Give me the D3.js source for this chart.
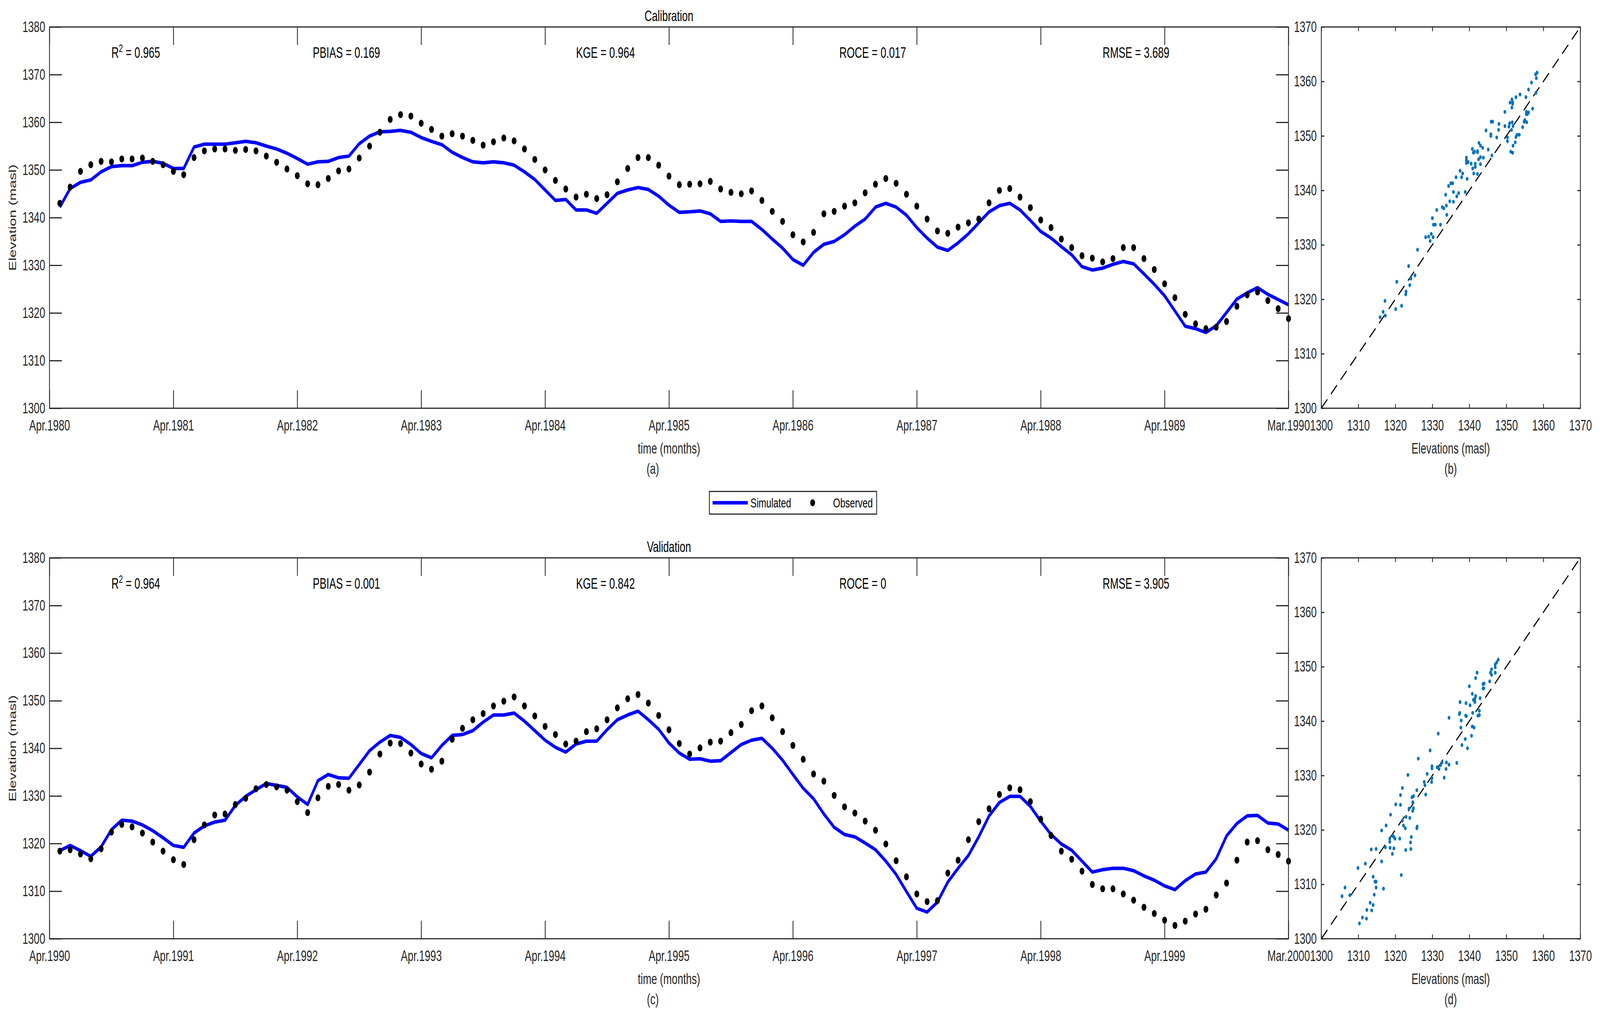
<!DOCTYPE html>
<html lang="en">
<head>
<meta charset="UTF-8">
<title>Calibration and validation - lake elevation</title>
<style>
  html, body { margin: 0; padding: 0; background: #fff; overflow: hidden; }
  svg { display: block; width: 100vw; height: 100vh; font-family: "Liberation Sans", Arial, Helvetica, sans-serif; }
  .axis text { fill: #262626; font-size: 38px; }
  .axis line { stroke: #262626; stroke-width: 3; }
  .frame { fill: none; stroke: #262626; stroke-width: 3; }
  .lbl { fill: #262626; font-size: 38px; }
  .stat, .title { fill: #000; font-size: 38px; }
  .legend text { fill: #000; font-size: 34px; }
</style>
</head>
<body>
<svg id="chart"></svg>
<script src="https://d3js.org/d3.v7.min.js"></script>
<script>
// x tick labels (one every 12 months)
const calTicks = ["Apr.1980", "Apr.1981", "Apr.1982", "Apr.1983", "Apr.1984", "Apr.1985",
  "Apr.1986", "Apr.1987", "Apr.1988", "Apr.1989", "Mar.1990"];
const valTicks = ["Apr.1990", "Apr.1991", "Apr.1992", "Apr.1993", "Apr.1994", "Apr.1995",
  "Apr.1996", "Apr.1997", "Apr.1998", "Apr.1999", "Mar.2000"];
const elevTicks = [1300, 1310, 1320, 1330, 1340, 1350, 1360, 1370, 1380];
const scatterTicks = [1300, 1310, 1320, 1330, 1340, 1350, 1360, 1370];

// goodness of fit
const statNames = ["R", "PBIAS", "KGE", "ROCE", "RMSE"];
const calStats = ["0.965", "0.169", "0.964", "0.017", "3.689"];
const valStats = ["0.964", "0.001", "0.842", "0", "3.905"];

// monthly elevations (masl), calibration period
const calSim = [1342.2, 1346.1, 1347.4, 1347.9, 1349.6, 1350.7, 1350.9, 1350.9, 1351.6, 1351.8,
  1351.4, 1350.3, 1350.3, 1354.8, 1355.4, 1355.4, 1355.4, 1355.7, 1356.0, 1355.7,
  1355.0, 1354.4, 1353.5, 1352.4, 1351.2, 1351.7, 1351.8, 1352.6, 1352.9, 1355.5,
  1357.1, 1358.0, 1358.1, 1358.3, 1357.9, 1356.8, 1356.0, 1355.3, 1353.7, 1352.6,
  1351.7, 1351.5, 1351.7, 1351.5, 1351.0, 1349.6, 1348.0, 1345.8, 1343.6, 1343.8,
  1341.6, 1341.6, 1340.9, 1343.0, 1345.1, 1345.8, 1346.3, 1345.9, 1344.5, 1342.6,
  1341.1, 1341.2, 1341.4, 1340.8, 1339.2, 1339.3, 1339.2, 1339.2, 1337.5, 1335.5,
  1333.6, 1331.2, 1330.0, 1332.7, 1334.4, 1335.0, 1336.4, 1338.2, 1339.7, 1342.2,
  1343.0, 1342.2, 1340.5, 1337.9, 1335.7, 1333.8, 1333.1, 1334.7, 1336.6, 1338.9,
  1341.2, 1342.5, 1343.0, 1341.6, 1339.4, 1337.1, 1335.7, 1333.9, 1332.2, 1329.7,
  1329.0, 1329.4, 1330.2, 1330.8, 1330.3, 1328.2, 1326.0, 1323.6, 1320.4, 1317.2,
  1316.7, 1315.9, 1317.3, 1320.1, 1322.9, 1324.2, 1325.3, 1323.9, 1322.8, 1321.7];
const calObs = [1343.0, 1346.4, 1349.7, 1351.1, 1351.8, 1351.7, 1352.3, 1352.3, 1352.5, 1351.8,
  1351.1, 1349.7, 1349.0, 1352.6, 1354.0, 1354.4, 1354.4, 1354.1, 1354.3, 1354.0,
  1352.9, 1351.6, 1350.2, 1348.8, 1347.1, 1346.9, 1348.2, 1349.8, 1350.2, 1352.5,
  1355.0, 1357.9, 1360.6, 1361.6, 1361.3, 1359.8, 1358.5, 1357.1, 1357.6, 1357.1,
  1356.2, 1355.2, 1355.9, 1356.7, 1356.1, 1354.4, 1352.2, 1350.0, 1347.8, 1346.0,
  1344.3, 1344.9, 1344.0, 1344.8, 1347.5, 1350.3, 1352.6, 1352.6, 1351.0, 1348.7,
  1346.9, 1347.0, 1347.1, 1347.6, 1346.0, 1345.3, 1345.0, 1345.6, 1343.6, 1341.3,
  1339.2, 1336.4, 1334.9, 1336.9, 1340.8, 1341.3, 1342.4, 1343.1, 1345.2, 1347.0,
  1348.2, 1347.2, 1344.9, 1342.4, 1339.7, 1337.2, 1336.7, 1338.0, 1338.9, 1339.7,
  1343.1, 1345.7, 1346.1, 1344.3, 1342.1, 1339.5, 1337.9, 1335.5, 1333.7, 1332.0,
  1331.5, 1330.7, 1331.4, 1333.7, 1333.7, 1331.4, 1329.1, 1326.1, 1323.2, 1319.7,
  1317.7, 1316.7, 1317.0, 1318.2, 1321.4, 1323.8, 1324.4, 1322.6, 1320.9, 1318.8];

// monthly elevations (masl), validation period
const valSim = [1318.5, 1319.6, 1318.5, 1317.3, 1319.3, 1322.9, 1324.9, 1324.7, 1323.9, 1322.7,
  1321.2, 1319.6, 1319.2, 1322.2, 1323.7, 1324.5, 1324.9, 1328.0, 1329.9, 1331.3,
  1332.6, 1332.2, 1331.8, 1329.8, 1328.2, 1333.2, 1334.5, 1333.8, 1333.7, 1336.6,
  1339.5, 1341.3, 1342.7, 1342.3, 1340.8, 1338.9, 1338.0, 1340.6, 1342.7, 1342.9,
  1343.7, 1345.5, 1347.0, 1347.0, 1347.4, 1345.7, 1343.7, 1341.7, 1340.2, 1339.2,
  1340.9, 1341.5, 1341.5, 1343.9, 1346.0, 1347.0, 1347.8, 1346.0, 1344.0, 1341.1,
  1339.0, 1337.7, 1337.8, 1337.3, 1337.4, 1339.1, 1340.8, 1341.7, 1342.1, 1340.0,
  1337.5, 1334.5, 1331.6, 1329.4, 1326.2, 1323.4, 1321.9, 1321.4, 1320.1, 1318.7,
  1316.3, 1313.5, 1309.9, 1306.4, 1305.6, 1307.7, 1311.9, 1314.8, 1317.5, 1321.4,
  1325.8, 1328.6, 1329.9, 1329.9, 1327.8, 1324.7, 1321.9, 1319.9, 1318.6, 1316.3,
  1314.0, 1314.5, 1314.8, 1314.8, 1314.3, 1313.2, 1312.3, 1311.1, 1310.3, 1312.2,
  1313.6, 1314.0, 1316.8, 1321.6, 1324.2, 1325.8, 1325.9, 1324.3, 1324.1, 1322.8];
const valObs = [1318.4, 1318.7, 1317.8, 1316.8, 1318.9, 1322.4, 1324.0, 1323.5, 1322.2, 1320.3,
  1318.4, 1316.6, 1315.6, 1320.8, 1323.9, 1326.0, 1326.2, 1328.2, 1329.5, 1331.5,
  1332.4, 1331.9, 1331.2, 1328.8, 1326.5, 1329.6, 1332.0, 1332.4, 1331.2, 1332.3,
  1335.0, 1338.8, 1341.1, 1341.0, 1339.0, 1336.7, 1335.6, 1337.3, 1341.9, 1344.2,
  1346.0, 1347.3, 1348.9, 1349.9, 1350.8, 1348.9, 1346.8, 1344.6, 1342.9, 1340.9,
  1341.5, 1343.5, 1344.1, 1346.0, 1348.5, 1350.4, 1351.3, 1349.5, 1346.9, 1343.9,
  1341.0, 1338.8, 1340.1, 1341.3, 1341.5, 1343.3, 1345.0, 1347.9, 1348.9, 1346.4,
  1343.5, 1340.6, 1337.7, 1334.6, 1333.1, 1330.1, 1327.7, 1326.4, 1324.7, 1322.8,
  1319.9, 1316.4, 1313.0, 1309.4, 1307.8, 1308.0, 1313.8, 1316.5, 1320.8, 1324.6,
  1327.3, 1330.3, 1331.7, 1331.3, 1328.8, 1325.1, 1321.7, 1318.4, 1316.7, 1314.2,
  1311.4, 1310.5, 1310.5, 1309.4, 1308.1, 1306.6, 1305.3, 1303.9, 1302.8, 1303.7,
  1305.2, 1306.2, 1309.2, 1311.7, 1316.5, 1320.3, 1320.6, 1318.7, 1317.7, 1316.3];

const W = 5948, H = 2611;
// laid out in a 5948x2611 user space, stretched to whatever window we get
const svg = d3.select("#chart")
  .attr("viewBox", `0 0 ${W} ${H}`)
  .attr("preserveAspectRatio", "none");
svg.append("rect").attr("width", W).attr("height", H).attr("fill", "#fff");

const panels = [
  { top: 69, bottom: 1045, title: "Calibration", ticks: calTicks, stats: calStats,
    sim: calSim, obs: calObs, tagTs: "(a)", tagSc: "(b)" },
  { top: 1428, bottom: 2403, title: "Validation", ticks: valTicks, stats: valStats,
    sim: valSim, obs: valObs, tagTs: "(c)", tagSc: "(d)" }
];

// where the fit statistics sit, in months from the axis start
const statAt = [6, 25.5, 51, 76.5, 102];

const noDomain = g => g.select(".domain").remove();
const plain = d3.format("d");

panels.forEach(p => {
  // ---- time series ----
  const x = d3.scaleLinear().domain([0, 120]).range([184, 4790]);
  const y = d3.scaleLinear().domain([1300, 1380]).range([p.bottom, p.top]);
  const tickIdx = p.ticks.map((_, i) => i * 12);

  svg.append("g").attr("class", "axis").attr("transform", `translate(0,${p.bottom})`)
    .call(d3.axisBottom(x).tickValues(tickIdx).tickFormat((d, i) => p.ticks[i])
      .tickSizeInner(-46).tickSizeOuter(0).tickPadding(30))
    .call(noDomain);
  svg.append("g").attr("class", "axis").attr("transform", `translate(0,${p.top})`)
    .call(d3.axisTop(x).tickValues(tickIdx).tickFormat("").tickSizeInner(-46).tickSizeOuter(0))
    .call(noDomain);
  svg.append("g").attr("class", "axis").attr("transform", "translate(184,0)")
    .call(d3.axisLeft(y).tickValues(elevTicks).tickFormat(plain)
      .tickSizeInner(-46).tickSizeOuter(0).tickPadding(16))
    .call(noDomain);
  svg.append("g").attr("class", "axis").attr("transform", "translate(4790,0)")
    .call(d3.axisRight(y).tickValues(elevTicks).tickFormat("").tickSizeInner(-46).tickSizeOuter(0))
    .call(noDomain);

  const line = d3.line().x((d, i) => x(i + 1)).y(d => y(d));
  svg.append("path").datum(p.sim)
    .attr("d", line)
    .attr("fill", "none")
    .attr("stroke", "#0000ff")
    .attr("stroke-width", 9)
    .attr("stroke-linejoin", "round");

  svg.append("g").selectAll("circle").data(p.obs).enter().append("circle")
    .attr("cx", (d, i) => x(i + 1))
    .attr("cy", d => y(d))
    .attr("r", 9)
    .attr("fill", "#000");

  svg.append("rect").attr("class", "frame")
    .attr("x", 184).attr("y", p.top).attr("width", 4606).attr("height", p.bottom - p.top);

  p.stats.forEach((v, i) => {
    const t = svg.append("text").attr("class", "stat")
      .attr("x", x(statAt[i])).attr("y", p.top + 79);
    if (i === 0) {
      t.append("tspan").text("R");
      t.append("tspan").attr("dy", -15).style("font-size", "27px").text("2");
      t.append("tspan").attr("dy", 15).text(" = " + v);
    } else {
      t.text(statNames[i] + " = " + v);
    }
  });

  svg.append("text").attr("class", "title").attr("text-anchor", "middle")
    .attr("x", 2487).attr("y", p.top - 15).text(p.title);
  svg.append("text").attr("class", "lbl").attr("text-anchor", "middle")
    .attr("x", 2487).attr("y", p.bottom + 116).text("time (months)");
  svg.append("text").attr("class", "lbl").attr("text-anchor", "middle")
    .attr("x", 2427).attr("y", p.bottom + 168).text(p.tagTs);
  svg.append("text").attr("class", "lbl").attr("text-anchor", "middle")
    .attr("transform", `translate(60,${(p.top + p.bottom) / 2}) rotate(-90)`)
    .text("Elevation (masl)");

  // ---- scatter: simulated (x) vs observed (y) ----
  const sx = d3.scaleLinear().domain([1300, 1370]).range([4912, 5875]);
  const sy = d3.scaleLinear().domain([1300, 1370]).range([p.bottom, p.top]);

  svg.append("g").attr("class", "axis").attr("transform", `translate(0,${p.bottom})`)
    .call(d3.axisBottom(sx).tickValues(scatterTicks).tickFormat(plain)
      .tickSizeInner(-11).tickSizeOuter(0).tickPadding(30))
    .call(noDomain);
  svg.append("g").attr("class", "axis").attr("transform", `translate(0,${p.top})`)
    .call(d3.axisTop(sx).tickValues(scatterTicks).tickFormat("").tickSizeInner(-11).tickSizeOuter(0))
    .call(noDomain);
  svg.append("g").attr("class", "axis").attr("transform", "translate(4912,0)")
    .call(d3.axisLeft(sy).tickValues(scatterTicks).tickFormat(plain)
      .tickSizeInner(-11).tickSizeOuter(0).tickPadding(17))
    .call(noDomain);
  svg.append("g").attr("class", "axis").attr("transform", "translate(5875,0)")
    .call(d3.axisRight(sy).tickValues(scatterTicks).tickFormat("").tickSizeInner(-11).tickSizeOuter(0))
    .call(noDomain);

  svg.append("line")
    .attr("x1", sx(1300)).attr("y1", sy(1300))
    .attr("x2", sx(1370)).attr("y2", sy(1370))
    .attr("stroke", "#000").attr("stroke-width", 3.5)
    .attr("stroke-dasharray", "32 19");

  const pairs = p.sim.map((s, i) => [s, p.obs[i]]);
  svg.append("g").selectAll("circle").data(pairs).enter().append("circle")
    .attr("cx", d => sx(d[0]))
    .attr("cy", d => sy(d[1]))
    .attr("r", 5)
    .attr("fill", "#0072bd");

  svg.append("rect").attr("class", "frame")
    .attr("x", 4912).attr("y", p.top).attr("width", 963).attr("height", p.bottom - p.top);

  svg.append("text").attr("class", "lbl").attr("text-anchor", "middle")
    .attr("x", 5393).attr("y", p.bottom + 116).text("Elevations (masl)");
  svg.append("text").attr("class", "lbl").attr("text-anchor", "middle")
    .attr("x", 5393).attr("y", p.bottom + 168).text(p.tagSc);
});

// legend between the two rows
const legend = svg.append("g").attr("class", "legend");
legend.append("rect")
  .attr("x", 2637).attr("y", 1258).attr("width", 622).attr("height", 58)
  .attr("fill", "#fff").attr("stroke", "#262626").attr("stroke-width", 3);
legend.append("line")
  .attr("x1", 2649).attr("x2", 2780).attr("y1", 1287).attr("y2", 1287)
  .attr("stroke", "#0000ff").attr("stroke-width", 9);
legend.append("text").attr("x", 2790).attr("y", 1299).text("Simulated");
legend.append("circle").attr("cx", 3021).attr("cy", 1287).attr("r", 9).attr("fill", "#000");
legend.append("text").attr("x", 3097).attr("y", 1299).text("Observed");
</script>
</body>
</html>
